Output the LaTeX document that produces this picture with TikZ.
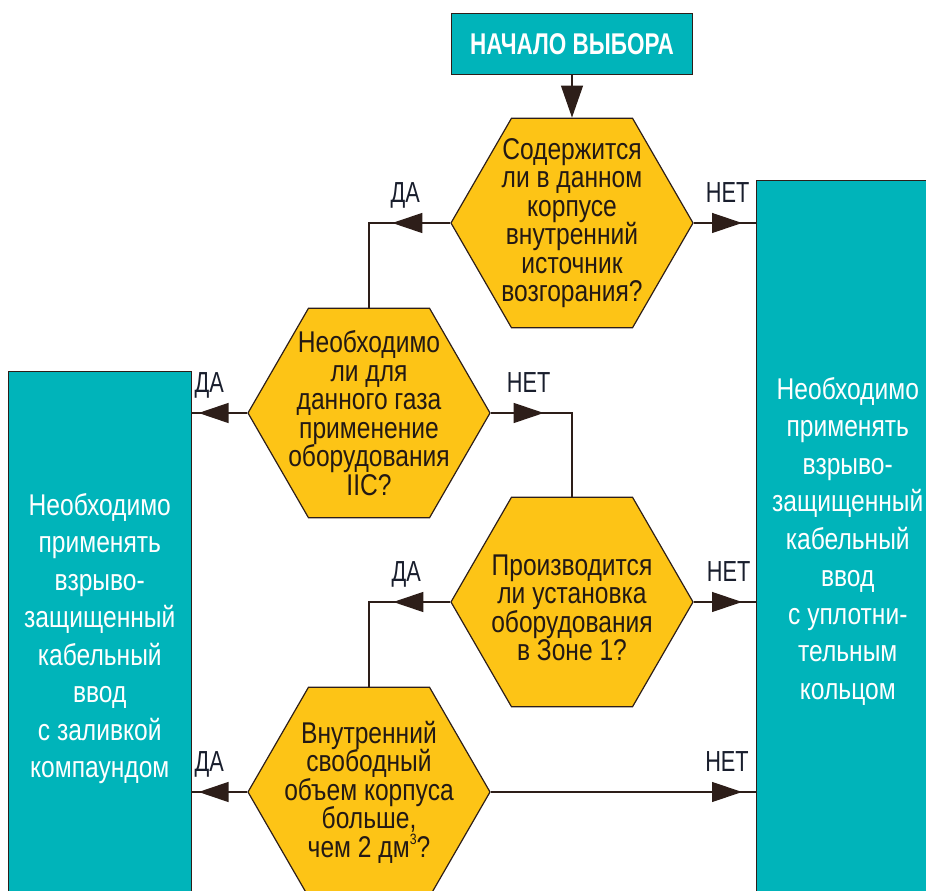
\documentclass[tikz,border=0pt]{standalone}
\usepackage{fontspec}
\setmainfont{Liberation Sans}[FakeStretch=0.82]
\newfontfamily\narrowfont{Liberation Sans}[FakeStretch=0.75]
\usetikzlibrary{positioning}
\usetikzlibrary{shapes.geometric}
\usetikzlibrary{calc}
\usetikzlibrary{arrows.meta}
\usetikzlibrary{decorations.markings}
\definecolor{boxteal}{RGB}{0,180,186}
\definecolor{hexgold}{RGB}{253,196,22}
\definecolor{linebrown}{RGB}{45,30,25}
\definecolor{inkdark}{RGB}{35,25,20}
\definecolor{labelink}{RGB}{25,30,45}
\newcommand{\cubed}{\raisebox{0.42em}{\fontsize{15}{15}\selectfont 3}}
\tikzset{
  hexq/.style={regular polygon, regular polygon sides=6, minimum size=242pt, inner sep=0pt,
    draw=linebrown, line width=1.2pt, fill=hexgold},
  hextext/.style={text=inkdark, text width=200pt, align=flush center, font=\fontsize{30}{28.5}\selectfont},
  outbox/.style={draw=linebrown, line width=0.9pt, fill=boxteal, text=white, text width=176pt,
    align=flush center, font=\fontsize{30}{37.5}\selectfont, anchor=north west},
  ans/.style={text=labelink, font=\narrowfont\fontsize{29}{29}\selectfont, anchor=base, inner sep=0pt},
  flow/.style={color=linebrown, line width=1.2pt},
  tipat/.style={postaction={decorate}, decoration={markings,
    mark=at position #1 with {\arrow{Triangle[length=30pt,width=20pt]}}}},
}

\begin{document}
\begin{tikzpicture}[x=1pt,y=1pt]
    \clip (0,0) rectangle (926,891);
    % outcome boxes
    \node [outbox, minimum width=182pt, minimum height=722pt] (boxr) at (756,711)
        {Необходимо\\применять\\взрыво-\\защищенный\\кабельный\\ввод\\с уплотни-\\тельным\\кольцом};
    \node [outbox, minimum width=178pt, minimum height=534pt] (boxl) at (8,520)
        {Необходимо\\применять\\взрыво-\\защищенный\\кабельный\\ввод\\с заливкой\\компаундом};
    % start
    \node [draw=linebrown, line width=0.9pt, fill=boxteal, minimum width=241pt, minimum height=61pt,
        text=white, font=\narrowfont\bfseries\fontsize{30}{30}\selectfont] (start) at (572,847) {НАЧАЛО ВЫБОРА};
    % questions
    \node [hexq] (q1) at (572,668) {};
    \node [hextext] (q1t) at (q1) {Содержится\\ли в данном\\корпусе\\внутренний\\источник\\возгорания?};
    \node [hexq] (q2) at (369,478) {};
    \node [hextext] (q2t) at (q2) {Необходимо\\ли для\\данного газа\\применение\\оборудования\\IIC?};
    \node [hexq] (q3) at (572,289) {};
    \node [hextext] (q3t) at ($(q3)+(0,-6)$) {Производится\\ли установка\\оборудования\\в Зоне 1?};
    \node [hexq] (q4) at (369,99) {};
    \node [hextext] (q4t) at (q4) {Внутренний\\свободный\\объем корпуса\\больше,\\чем 2 дм\cubed?};
    % connectors
    \draw [flow, -{Triangle[length=32pt,width=22pt]}] (start) -- (q1);
    \draw [flow, tipat=-14pt] (q1.east) -- (q1.east -| boxr.west);
    \draw [flow, tipat=58pt] (q1.west) -| (q2.north);
    \draw [flow, tipat=-7pt] (q2.west) -- (q2.west -| boxl.east);
    \draw [flow, tipat=53pt] (q2.east) -| (q3.north);
    \draw [flow, tipat=-14pt] (q3.east) -- (q3.east -| boxr.west);
    \draw [flow, tipat=57pt] (q3.west) -| (q4.north);
    \draw [flow, tipat=-7pt] (q4.west) -- (q4.west -| boxl.east);
    \draw [flow, tipat=-14pt] (q4.east) -- (q4.east -| boxr.west);
    % answers
    \node [ans] (q1no) at ($(q1.east)+(34,20)$) {НЕТ};
    \node [ans] (q1yes) at ($(q1.west)+(-45,20)$) {ДА};
    \node [ans] (q2yes) at ($(q2.west)+(-38,20)$) {ДА};
    \node [ans] (q2no) at ($(q2.east)+(38,20)$) {НЕТ};
    \node [ans] (q3yes) at ($(q3.west)+(-44,20)$) {ДА};
    \node [ans] (q3no) at ($(q3.east)+(35,20)$) {НЕТ};
    \node [ans] (q4yes) at ($(q4.west)+(-38,20)$) {ДА};
    \node [ans] (q4no) at ($(q4.east -| boxr.west)+(-29,20)$) {НЕТ};
\end{tikzpicture}
\end{document}
